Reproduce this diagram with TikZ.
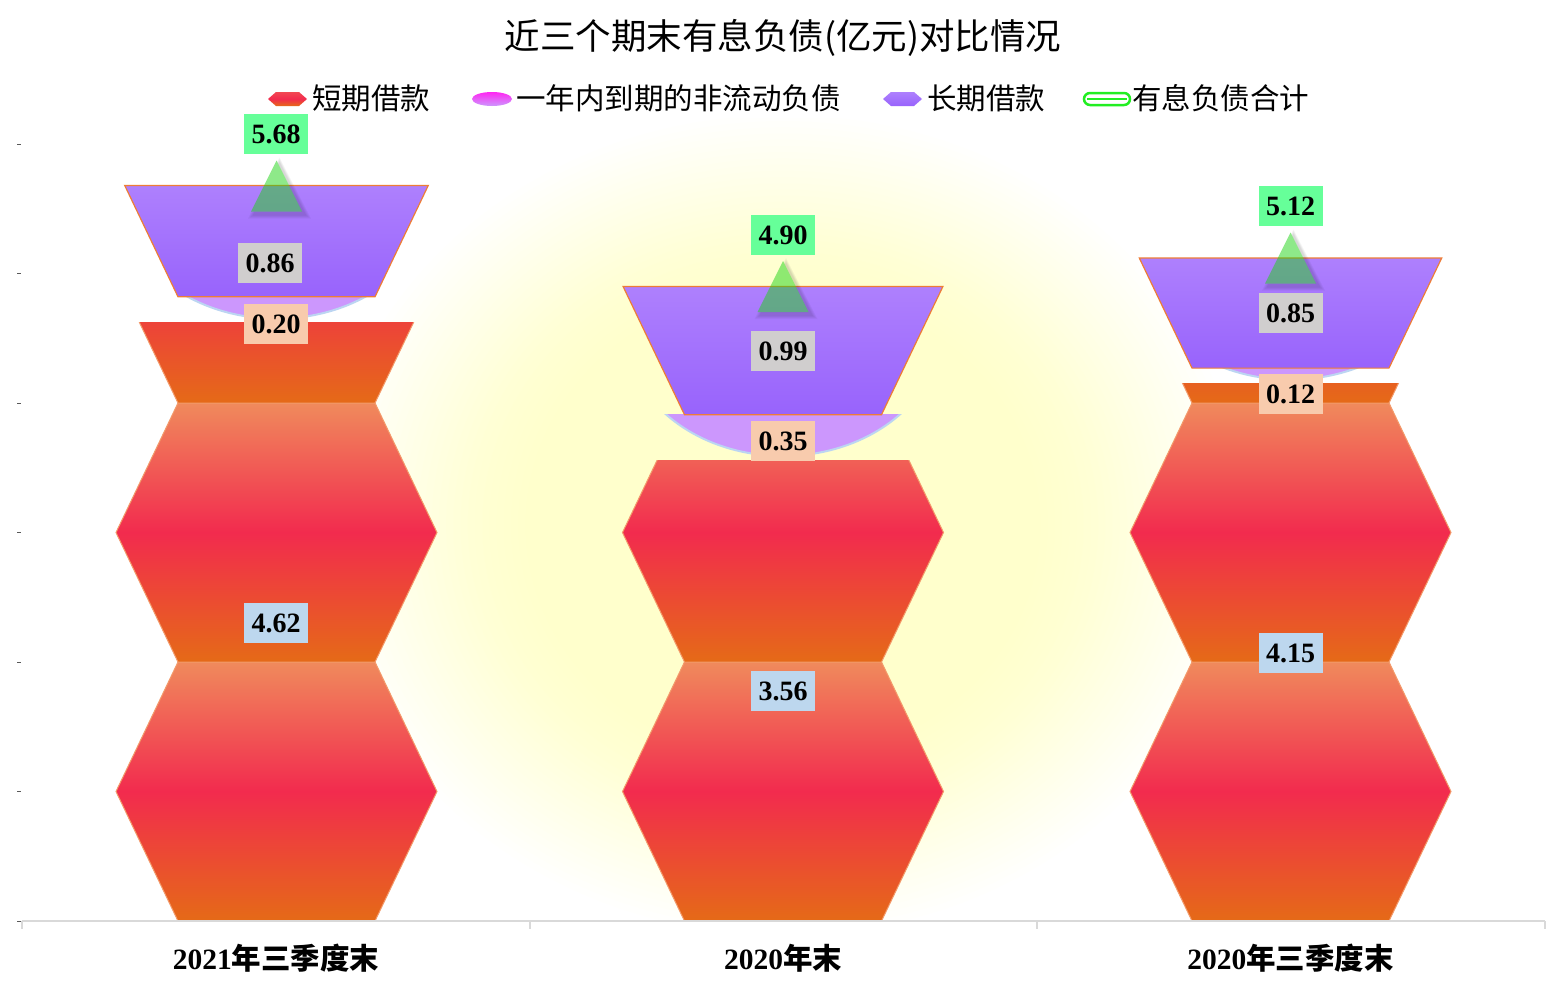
\documentclass[tikz,border=0pt]{standalone}
\usepackage{fontspec}
\setmainfont{Liberation Serif}
\newfontfamily\cjk{Noto Sans CJK SC}
\definecolor{hexTop}{HTML}{F08A5C}
\definecolor{hexMid}{HTML}{F22B4E}
\definecolor{hexBot}{HTML}{E56A17}
\definecolor{hexEdge}{HTML}{F39A6A}
\definecolor{purTop}{HTML}{AE80FD}
\definecolor{purBot}{HTML}{9863FC}
\definecolor{purEdge}{HTML}{EE7D36}
\definecolor{bowlc}{HTML}{CC97FD}
\definecolor{bowlEdge}{HTML}{BCD5F2}
\definecolor{triG}{HTML}{1ED414}
\definecolor{labGreen}{HTML}{66FF99}
\definecolor{labGray}{HTML}{D0CECE}
\definecolor{labPeach}{HTML}{F8CBAD}
\definecolor{labBlue}{HTML}{BDD7EE}
\definecolor{axisc}{HTML}{D9D9D9}
\definecolor{glowc}{HTML}{FFFFCC}
\definecolor{legGreen}{HTML}{22EE22}
\tikzset{
  hexsty/.style={top color=hexTop, bottom color=hexBot, middle color=hexMid, draw=hexEdge, line width=1pt},
  pursty/.style={top color=purTop, bottom color=purBot, draw=purEdge, line width=1.2pt},
  bowlsty/.style={fill=bowlc, draw=bowlEdge, line width=2pt},
  tristy/.style={fill=triG, fill opacity=0.5},
  trishadow/.style={fill=black, fill opacity=0.04},
  lab/.style={font=\bfseries\fontsize{28}{30}\selectfont, inner xsep=7.5pt, inner ysep=0pt, minimum height=40pt, text height=19pt, text depth=0pt},
  cat/.style={font=\bfseries\fontsize{29.5}{32}\selectfont, inner sep=0pt},
  legtext/.style={font=\cjk\fontsize{29.5}{32}\selectfont, inner sep=0pt, anchor=west},
  axisline/.style={draw=axisc, line width=1.5pt},
  ytick/.style={draw=black!65, line width=1pt}
}
\newcommand{\hexshape}[2]{%
  \path[hexsty] ({#1-98.5},#2) -- ({#1-160.5},{#2-129.5}) -- ({#1-98.5},{#2-259}) -- ({#1+98.5},{#2-259}) -- ({#1+160.5},{#2-129.5}) -- ({#1+98.5},#2) -- cycle;}
\newcommand{\clippedhex}[3]{% cx, bottom of hexagon, top of clip
  \begin{scope}
    \clip ({#1-175},#3) rectangle ({#1+175},{#2+2});
    \hexshape{#1}{#2}
  \end{scope}}
\newcommand{\bowl}[3]{% cx, bottom y, top y
  \begin{scope}
    \clip ({#1-175},#3) rectangle ({#1+175},#2);
    \path[bowlsty] (#1,{#2-131}) ellipse [x radius=158pt, y radius=127pt];
  \end{scope}}
\newcommand{\purtrap}[4]{% cx, bottom y, top y, top half width
  \path[pursty] ({#1-98.5},#2) -- ({#1-#4},#3) -- ({#1+#4},#3) -- ({#1+98.5},#2) -- cycle;}
\newcommand{\tri}[2]{% cx, value y
  \begin{scope}[even odd rule]
    \clip (0,0) rectangle (1567,991) (#1,{#2-25.5}) -- ({#1-25.5},{#2+25.5}) -- ({#1+25.5},{#2+25.5}) -- cycle;
    \foreach \k in {1,2,3,4}{
      \path[trishadow] ({#1+3},{#2+3-25.5-1.5*\k}) -- ({#1+3-25.5-1.5*\k},{#2+3+25.5+\k}) -- ({#1+3+25.5+1.5*\k},{#2+3+25.5+\k}) -- cycle;}
  \end{scope}
  \path[tristy] (#1,{#2-25.5}) -- ({#1-25.5},{#2+25.5}) -- ({#1+25.5},{#2+25.5}) -- cycle;}
\begin{document}
\begin{tikzpicture}[x=1pt,y=-1pt]
\useasboundingbox (0,0) rectangle (1567,991);
\fill[white] (0,0) rectangle (1567,991);
% background glow
\begin{scope}
  \clip (22,118) rectangle (1545,921);
  \foreach \k in {1,...,30}{
    \pgfmathsetmacro{\op}{1/(31-\k)}
    \pgfmathsetmacro{\rx}{460-(\k-1)*210/29}
    \pgfmathsetmacro{\ry}{410-(\k-1)*180/29}
    \fill[glowc, fill opacity=\op] (783,525) ellipse [x radius=\rx pt, y radius=\ry pt];
  }
\end{scope}
% title
\node[font=\cjk\fontsize{35.5}{38}\selectfont, inner sep=0pt] (title) at (783,38) {近三个期末有息负债(亿元)对比情况};
% legend
\path[top color=hexTop!30!hexMid, bottom color=hexBot, middle color=hexMid] (268,99) -- (276,92) -- (299,92) -- (307,99) -- (299,106) -- (276,106) -- cycle;
\node[legtext] (l1) at (312,98) {短期借款};
\path[top color=magenta!80!pink, bottom color=bowlc] (492,99) ellipse [x radius=20pt, y radius=7pt];
\node[legtext] (l2) at (516,98) {一年内到期的非流动负债};
\path[top color=purTop, bottom color=purBot] (883,99) -- (891,92) -- (914,92) -- (922,99) -- (914,106) -- (891,106) -- cycle;
\node[legtext] (l3) at (927,98) {长期借款};
\draw[legGreen, line width=2.5pt, fill=white, rounded corners=6pt] (1084,93) rectangle (1130,105);
\draw[legGreen, line width=2.2pt] (1087,99) -- (1127,99);
\node[legtext] (l4) at (1132,98) {有息负债合计};
% ---------- column 1 ----------
\hexshape{276.5}{921}
\hexshape{276.5}{662}
\clippedhex{276.5}{403}{322.7}
\bowl{276.5}{322.7}{296.8}
\purtrap{276.5}{296.8}{185.4}{151.8}
\tri{276.5}{186}
% ---------- column 2 ----------
\hexshape{783}{921}
\clippedhex{783}{662}{460}
\bowl{783}{460}{414.7}
\purtrap{783}{414.7}{286.5}{159.9}
\tri{783}{286.5}
% ---------- column 3 ----------
\hexshape{1290.5}{921}
\hexshape{1290.5}{662}
\clippedhex{1290.5}{403}{383.6}
\bowl{1290.5}{383.6}{368.1}
\purtrap{1290.5}{368.1}{258}{151.2}
\tri{1290.5}{258}
% axes
\draw[axisline] (22,921) -- (1545,921);
\foreach \xx in {22,530,1037,1545} \draw[axisline] (\xx,921) -- (\xx,929);
\foreach \yy in {144,273.5,403,532.5,662,791.5,921} \draw[ytick] (17,\yy) -- (21,\yy);
% labels
\node[lab, fill=labBlue] (s1) at (276,623) {4.62};
\node[lab, fill=labBlue] (s2) at (783,691) {3.56};
\node[lab, fill=labBlue] (s3) at (1290.5,653) {4.15};
\node[lab, fill=labPeach] (n1) at (276,323.5) {0.20};
\node[lab, fill=labPeach] (n2) at (783,441) {0.35};
\node[lab, fill=labPeach] (n3) at (1290.5,394) {0.12};
\node[lab, fill=labGray] (g1) at (270,262.5) {0.86};
\node[lab, fill=labGray] (g2) at (783,351) {0.99};
\node[lab, fill=labGray] (g3) at (1290.5,313) {0.85};
\node[lab, fill=labGreen] (t1) at (276,134) {5.68};
\node[lab, fill=labGreen] (t2) at (783,235) {4.90};
\node[lab, fill=labGreen] (t3) at (1290.5,206) {5.12};
% category labels
\node[cat] (c1) at (276,958) {2021{\cjk 年三季度末}};
\node[cat] (c2) at (783,958) {2020{\cjk 年末}};
\node[cat] (c3) at (1290.5,958) {2020{\cjk 年三季度末}};
\end{tikzpicture}
\end{document}
